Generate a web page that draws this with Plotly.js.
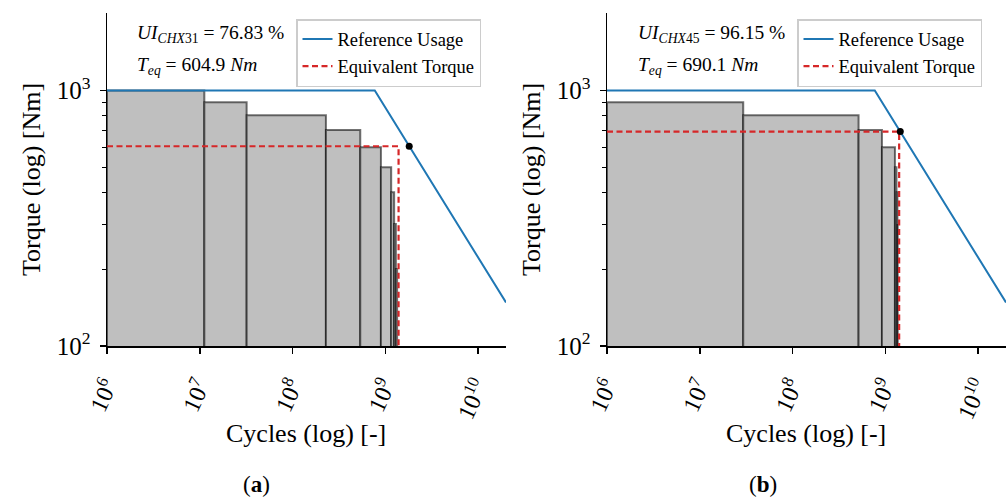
<!DOCTYPE html>
<html>
<head>
<meta charset="utf-8">
<script src="https://cdn.plot.ly/plotly-3.0.1.min.js"></script>
<style>
html,body{margin:0;padding:0;background:#fff;}
#chart{width:1008px;height:498px;}
</style>
</head>
<body>
<div id="chart"></div>
<script>
// ---- Data ----
// Panel (a): load spectrum bins (torque level, cumulative cycle count at bin end)
const torqueA = [1000, 900, 800, 700, 600, 500, 400, 300, 200];
const cyclesEndA = [1.12e7, 3.2e7, 2.29e8, 5.37e8, 8.97e8, 1.157e9, 1.245e9, 1.30e9, 1.34e9];
const totalCyclesA = 1.39e9;
const teqA = 604.9;
const neqA = 1.81e9;
const uiA = "76.83";

// Panel (b)
const torqueB = [900, 800, 700, 600, 500, 400, 300];
const cyclesEndB = [2.94e7, 5.15e8, 9.2e8, 1.27e9, 1.32e9, 1.35e9, 1.37e9];
const totalCyclesB = 1.41e9;
const teqB = 690.1;
const neqB = 1.45e9;
const uiB = "96.15";

// Reference usage (S-N style) curve
const refCycles = [1e6, 7.7e8, 2e10];
const refTorque = [1000, 1000, 148];

const startCycles = 1e6;
const xTickVals = [1e6, 1e7, 1e8, 1e9, 1e10];
const xTickText = ["10<sup>6</sup>", "10<sup>7</sup>", "10<sup>8</sup>", "10<sup>9</sup>", "10<sup>10</sup>"];
const yTickVals = [100, 1000];
const yTickText = ["10<sup>2</sup>", "10<sup>3</sup>"];
const yMinorVals = [200, 300, 400, 500, 600, 700, 800, 900];

// ---- Build traces ----
const FONT = "Liberation Serif, Times New Roman, serif";
const traces = [];

function addPanel(torque, cyclesEnd, totalCycles, teq, neq, xa, ya, legendName) {
  let prev = startCycles;
  for (let i = 0; i < torque.length; i++) {
    const x0 = prev, x1 = cyclesEnd[i], t = torque[i];
    traces.push({
      type: "scatter", mode: "lines", xaxis: xa, yaxis: ya,
      x: [x0, x0, x1, x1, x0], y: [1, t, t, 1, 1],
      fill: "toself", fillcolor: "rgb(191,191,191)",
      line: {color: "rgba(0,0,0,0.55)", width: 2},
      showlegend: false, hoverinfo: "skip"
    });
    prev = x1;
  }
  traces.push({
    type: "scatter", mode: "lines", xaxis: xa, yaxis: ya,
    x: refCycles, y: refTorque, name: "Reference Usage",
    line: {color: "#1f77b4", width: 2}, legend: legendName
  });
  traces.push({
    type: "scatter", mode: "lines", xaxis: xa, yaxis: ya,
    x: [startCycles, totalCycles, totalCycles], y: [teq, teq, 1],
    name: "Equivalent Torque",
    line: {color: "#d62728", width: 2.2, dash: "6px,3.5px"}, legend: legendName
  });
  traces.push({
    type: "scatter", mode: "markers", xaxis: xa, yaxis: ya,
    x: [neq], y: [teq], marker: {color: "#000", size: 7},
    showlegend: false, hoverinfo: "skip"
  });
}
addPanel(torqueA, cyclesEndA, totalCyclesA, teqA, neqA, "x", "y", "legend");
addPanel(torqueB, cyclesEndB, totalCyclesB, teqB, neqB, "x2", "y2", "legend2");

// ---- Layout ----
const W = 1008, H = 498;
const px = v => v / W;
const py = v => 1 - v / H;

function xAxis(domain, anchor) {
  return {
    type: "log", domain: domain, anchor: anchor,
    range: [6, Math.log10(2e10)],
    tickmode: "array", tickvals: xTickVals, ticktext: xTickText,
    tickangle: -65, ticks: "outside", ticklen: 6, tickwidth: 1.5, tickcolor: "#000",
    ticklabelstandoff: 9,
    showline: true, linecolor: "#000", linewidth: 1.5, mirror: false,
    showgrid: false, zeroline: false,
    tickfont: {family: FONT, size: 24, color: "#000"}
  };
}
function yAxis(anchor) {
  return {
    type: "log", domain: [py(346), py(13)], anchor: anchor,
    range: [2, 3.303],
    tickmode: "array", tickvals: yTickVals, ticktext: yTickText,
    ticks: "outside", ticklen: 6, tickwidth: 1.5, tickcolor: "#000",
    ticklabelstandoff: 4,
    minor: {tickmode: "array", tickvals: yMinorVals, ticks: "outside", ticklen: 3.5, tickwidth: 1, tickcolor: "#000", showgrid: false},
    showline: true, linecolor: "#000", linewidth: 1.5, mirror: false,
    showgrid: false, zeroline: false,
    tickfont: {family: FONT, size: 25, color: "#000"}
  };
}

const legendStyle = (xpos) => ({
  x: px(xpos), y: py(19), xanchor: "left", yanchor: "top",
  bgcolor: "rgba(255,255,255,0.8)", bordercolor: "#cccccc", borderwidth: 1.5,
  font: {family: FONT, size: 18.5, color: "#000"},
  itemwidth: 30, tracegroupgap: 0
});

function ann(text, x, y, size, xanchor) {
  return {
    text: text, xref: "paper", yref: "paper", x: px(x), y: py(y),
    xanchor: xanchor || "center", yanchor: "middle", showarrow: false,
    font: {family: FONT, size: size, color: "#000"}
  };
}

const annotations = [
  ann("<i>UI</i><sub><i>CHX</i>31</sub> = " + uiA + " %", 135, 34, 19.5, "left"),
  ann("<i>T</i><sub><i>eq</i></sub> = " + teqA + " <i>Nm</i>", 135, 66, 19.5, "left"),
  ann("<i>UI</i><sub><i>CHX</i>45</sub> = " + uiB + " %", 636, 34, 19.5, "left"),
  ann("<i>T</i><sub><i>eq</i></sub> = " + teqB + " <i>Nm</i>", 636, 66, 19.5, "left"),
  ann("Cycles (log) [-]", 306, 433, 26),
  ann("Cycles (log) [-]", 806, 433, 26),
  Object.assign(ann("Torque (log) [Nm]", 31, 180, 26), {textangle: -90}),
  Object.assign(ann("Torque (log) [Nm]", 531, 180, 26), {textangle: -90}),
  ann("(<b>a</b>)", 256, 484, 23),
  ann("(<b>b</b>)", 763, 484, 23)
];

const layout = {
  width: W, height: H,
  margin: {l: 0, r: 0, t: 0, b: 0},
  paper_bgcolor: "#fff", plot_bgcolor: "#fff",
  font: {family: FONT, color: "#000"},
  xaxis: xAxis([px(107), px(506)], "y"),
  yaxis: yAxis("x"),
  xaxis2: xAxis([px(607), px(1006)], "y2"),
  yaxis2: yAxis("x2"),
  legend: legendStyle(296),
  legend2: legendStyle(797),
  annotations: annotations,
  showlegend: true
};

Plotly.newPlot("chart", traces, layout, {staticPlot: true, displayModeBar: false});
</script>
</body>
</html>
